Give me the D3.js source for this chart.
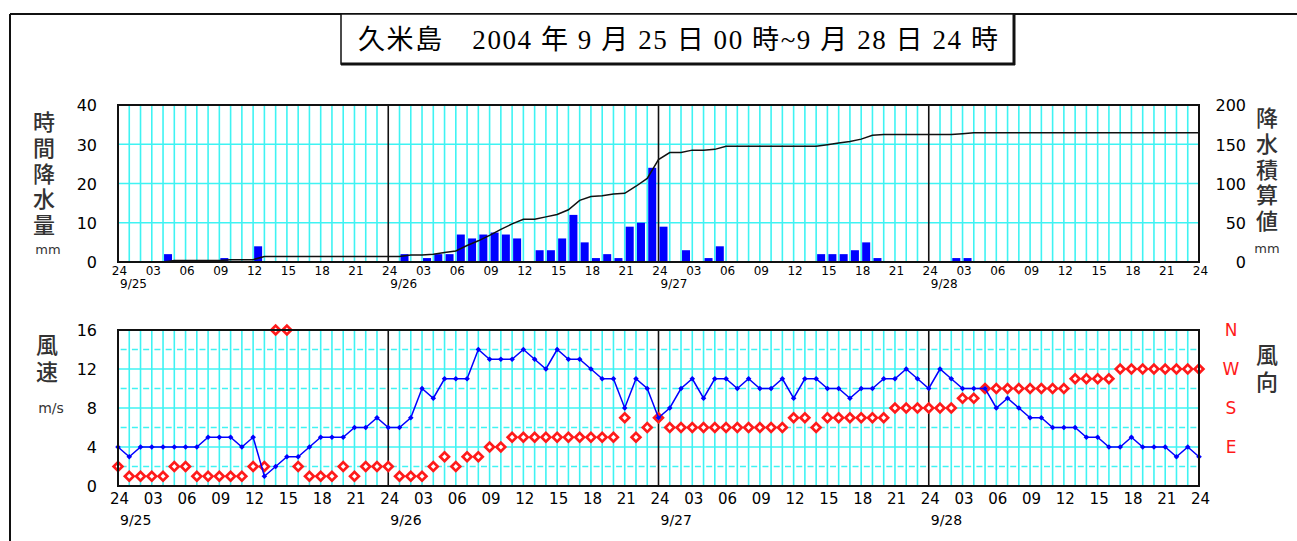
<!DOCTYPE html>
<html><head><meta charset="utf-8">
<script src="https://cdn.jsdelivr.net/npm/d3@7/dist/d3.min.js"></script>
<style>
body{margin:0;background:#fff;}
svg{display:block;}
</style>
</head><body>
<svg id="c" width="1297" height="541"></svg>
<script>
// ---------- data ----------
const title = "久米島　2004 年 9 月 25 日 00 時~9 月 28 日 24 時";
const dates = ["9/25", "9/26", "9/27", "9/28"];
const hourLabels = ["24", "03", "06", "09", "12", "15", "18", "21"];
const rainTicks = [0, 10, 20, 30, 40];
const cumTicks = [0, 50, 100, 150, 200];
const speedTicks = [0, 4, 8, 12, 16];
const dirNames = ["N", "W", "S", "E"];
const dirLevels = [16, 12, 8, 4];
const leftLabelTop = "時間降水量";
const rightLabelTop = "降水積算値";
const leftLabelBottom = "風速";
const rightLabelBottom = "風向";

// hourly precipitation (mm), hour i..i+1, i = 0..95 (from 9/25 00h)
const rain = [
  0,0,0,0,2,0,0,0,0,1,0,0,4,0,0,0,0,0,0,0,0,0,0,0,
  0,2,0,1,2,2,7,6,7,7.5,7,6,0,3,3,6,12,5,1,2,1,9,10,24,
  9,0,3,0,1,4,0,0,0,0,0,0,0,0,2,2,2,3,5,1,0,0,0,0,
  0,0,1,1,0,0,0,0,0,0,0,0,0,0,0,0,0,0,0,0,0,0,0,0
];
// wind speed (m/s) at hours 0..96
const speed = [
  4,3,4,4,4,4,4,4,5,5,5,4,5,1,2,3,3,4,5,5,5,6,6,7,
  6,6,7,10,9,11,11,11,14,13,13,13,14,13,12,14,13,13,12,11,11,8,11,10,
  7,8,10,11,9,11,11,10,11,10,10,11,9,11,11,10,10,9,10,10,11,11,12,11,
  10,12,11,10,10,10,8,9,8,7,7,6,6,6,5,5,4,4,5,4,4,4,3,4,3
];
// wind direction (16 points; E=4, S=8, W=12, N=16) at hours 0..96
const dir = [
  2,1,1,1,1,2,2,1,1,1,1,1,2,2,16,16,2,1,1,1,2,1,2,2,
  2,1,1,1,2,3,2,3,3,4,4,5,5,5,5,5,5,5,5,5,5,7,5,6,
  7,6,6,6,6,6,6,6,6,6,6,6,7,7,6,7,7,7,7,7,7,8,8,8,
  8,8,8,9,9,10,10,10,10,10,10,10,10,11,11,11,11,12,12,12,12,12,12,12,12
];

// ---------- drawing ----------
const svg = d3.select("#c");
const CYAN = "#3ff3f3";
const GRID_W = 1.6;
const x = d3.scaleLinear().domain([0, 96]).range([118, 1199]);
const hours = d3.range(0, 97);
const yRain = d3.scaleLinear().domain([0, 40]).range([262, 105]);
const yCum = d3.scaleLinear().domain([0, 200]).range([262, 105]);
const ySpd = d3.scaleLinear().domain([0, 16]).range([486, 330]);
const FONT = "'DejaVu Sans', 'Noto Sans CJK JP', sans-serif";
const CJK = "'Noto Sans CJK JP', sans-serif";

// outer frame
svg.append("line").attr("x1", 10).attr("y1", 14).attr("x2", 1297).attr("y2", 14)
  .attr("stroke", "#111").attr("stroke-width", 2);
svg.append("line").attr("x1", 10).attr("y1", 14).attr("x2", 10).attr("y2", 541)
  .attr("stroke", "#111").attr("stroke-width", 2);

// title box
svg.append("rect").attr("x", 341).attr("y", 14).attr("width", 673).attr("height", 50)
  .attr("fill", "#fff").attr("stroke", "#111").attr("stroke-width", 1.5);
svg.append("line").attr("x1", 341).attr("y1", 64).attr("x2", 1015).attr("y2", 64)
  .attr("stroke", "#111").attr("stroke-width", 3);
svg.append("line").attr("x1", 1014).attr("y1", 14).attr("x2", 1014).attr("y2", 65)
  .attr("stroke", "#111").attr("stroke-width", 3);
svg.append("text").attr("x", 358).attr("y", 49)
  .attr("textLength", 640).attr("lengthAdjust", "spacing")
  .attr("font-family", "'Liberation Serif', 'Noto Sans CJK JP', serif")
  .attr("font-size", 27).attr("fill", "#000").text(title);

function panel(yScale, hLines, dashLines) {
  const g = svg.append("g");
  const [yb, yt] = yScale.range();
  g.selectAll(".h").data(hLines).join("line")
    .attr("x1", x(0)).attr("x2", x(96))
    .attr("y1", d => yScale(d)).attr("y2", d => yScale(d))
    .attr("stroke", CYAN).attr("stroke-width", GRID_W);
  if (dashLines) {
    const step = x(1) - x(0);
    g.selectAll(".hd").data(dashLines).join("line")
      .attr("x1", x(0) + step / 2 - 3).attr("x2", x(96))
      .attr("y1", d => yScale(d)).attr("y2", d => yScale(d))
      .attr("stroke", CYAN).attr("stroke-width", GRID_W)
      .attr("stroke-dasharray", `6,${step - 6}`);
  }
  g.selectAll(".v").data(hours.filter(h => h % 24 !== 0)).join("line")
    .attr("x1", d => x(d)).attr("x2", d => x(d))
    .attr("y1", yt).attr("y2", yb)
    .attr("stroke", CYAN).attr("stroke-width", GRID_W);
  g.selectAll(".d").data([24, 48, 72]).join("line")
    .attr("x1", d => x(d)).attr("x2", d => x(d))
    .attr("y1", yt).attr("y2", yb)
    .attr("stroke", "#111").attr("stroke-width", 1.6);
  return g;
}
function frame(yScale) {
  const [yb, yt] = yScale.range();
  svg.append("rect").attr("x", x(0)).attr("y", yt)
    .attr("width", x(96) - x(0)).attr("height", yb - yt)
    .attr("fill", "none").attr("stroke", "#111").attr("stroke-width", 2);
}
function xAxis(y, yDate, fs, fsDate) {
  const ticks = d3.range(0, 97, 3);
  const ax = d3.axisBottom(x).tickValues(ticks).tickSize(0).tickSizeOuter(0)
    .tickFormat(h => hourLabels[(h % 24) / 3]);
  const g = svg.append("g").attr("transform", `translate(1,${y})`).call(ax);
  g.select(".domain").remove();
  g.selectAll("text").attr("font-family", FONT).attr("font-size", fs)
    .attr("fill", "#000").attr("dy", "0.35em").attr("y", 0);
  svg.selectAll(null).data(dates).join("text")
    .attr("x", (d, i) => x(i * 24) + 2).attr("y", yDate)
    .attr("dy", "0.35em")
    .attr("font-family", FONT).attr("font-size", fsDate).attr("fill", "#000")
    .text(d => d);
}
function yAxisText(scale, ticks, xPos, fs) {
  const ax = d3.axisLeft(scale).tickValues(ticks).tickSize(0).tickSizeOuter(0);
  const g = svg.append("g").attr("transform", `translate(${xPos},0)`).call(ax);
  g.select(".domain").remove();
  g.selectAll("text").attr("font-family", FONT).attr("font-size", fs)
    .attr("fill", "#000").attr("x", 0).attr("text-anchor", "end")
    .attr("dy", "0.36em");
  return g;
}
// vertical (top-to-bottom) label as one text element
function stackLabel(str, cx, firstCenter, pitch, fs) {
  svg.append("text")
    .attr("x", cx).attr("y", firstCenter - fs / 2)
    .attr("writing-mode", "vertical-rl")
    .style("writing-mode", "vertical-rl")
    .attr("letter-spacing", pitch - fs)
    .attr("font-family", CJK).attr("font-size", fs).attr("font-weight", 500)
    .attr("fill", "#333").text(str);
}

// ===== top panel: precipitation =====
panel(yRain, [10, 20, 30], null);
svg.append("g").selectAll("rect").data(rain.map((v, i) => ({ v, i })).filter(d => d.v > 0))
  .join("rect")
  .attr("x", d => x(d.i) + 1).attr("width", 8)
  .attr("y", d => yRain(d.v)).attr("height", d => yRain(0) - yRain(d.v))
  .attr("fill", "#0000ff");
const cum = [0, ...d3.cumsum(rain)];
svg.append("path").datum(cum)
  .attr("d", d3.line().x((d, i) => x(i)).y(d => yCum(d)))
  .attr("fill", "none").attr("stroke", "#111").attr("stroke-width", 1.5);
frame(yRain);
xAxis(271, 284, 12, 12);
yAxisText(yRain, rainTicks, 97, 16);
yAxisText(yCum, cumTicks, 1246, 16);
stackLabel(leftLabelTop, 44, 122, 25.7, 22);
stackLabel(rightLabelTop, 1267, 118, 25.6, 22);
svg.append("text").attr("x", 48).attr("y", 249).attr("dy", "0.35em").attr("text-anchor", "middle")
  .attr("font-family", FONT).attr("font-size", 13).attr("fill", "#333").text("mm");
svg.append("text").attr("x", 1267).attr("y", 248).attr("dy", "0.35em").attr("text-anchor", "middle")
  .attr("font-family", FONT).attr("font-size", 13).attr("fill", "#333").text("mm");

// ===== bottom panel: wind =====
panel(ySpd, [4, 8, 12], [2, 6, 10, 14]);
const diamond = (cx, cy, r) => `M${cx},${cy - r}L${cx + r},${cy}L${cx},${cy + r}L${cx - r},${cy}Z`;
svg.append("g").selectAll("path").data(dir.map((v, i) => ({ v, i })))
  .join("path")
  .attr("d", d => diamond(x(d.i), ySpd(d.v), 4.4))
  .attr("fill", "#fff").attr("stroke", "#ff1a1a").attr("stroke-width", 2.7);
svg.append("path").datum(speed)
  .attr("d", d3.line().x((d, i) => x(i)).y(d => ySpd(d)))
  .attr("fill", "none").attr("stroke", "#0000ff").attr("stroke-width", 1.5);
svg.append("g").selectAll("path").data(speed.map((v, i) => ({ v, i })))
  .join("path")
  .attr("d", d => diamond(x(d.i), ySpd(d.v), 2.8))
  .attr("fill", "#0000ff");
frame(ySpd);
xAxis(499, 520, 15, 14);
yAxisText(ySpd, speedTicks, 97, 16);
svg.selectAll(null).data(dirNames).join("text")
  .attr("x", 1231).attr("y", (d, i) => ySpd(dirLevels[i]))
  .attr("dy", "0.36em").attr("text-anchor", "middle")
  .attr("font-family", FONT).attr("font-size", 17).attr("fill", "#ff1a1a")
  .text(d => d);
stackLabel(leftLabelBottom, 47, 345, 27, 22);
stackLabel(rightLabelBottom, 1267, 355, 27, 22);
svg.append("text").attr("x", 51).attr("y", 408).attr("dy", "0.35em").attr("text-anchor", "middle")
  .attr("font-family", FONT).attr("font-size", 14).attr("fill", "#333").text("m/s");
</script>
</body></html>
